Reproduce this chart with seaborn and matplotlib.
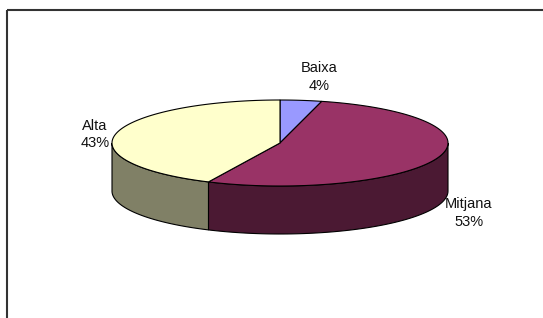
import numpy as np
import matplotlib
matplotlib.use("Agg")
import matplotlib.pyplot as plt
from matplotlib.patches import Polygon
import seaborn as sns

# ---- data ----
categories = ["Baixa", "Mitjana", "Alta"]
values = [4, 53, 43]
top_colors = ["#9999FF", "#993366", "#FFFFCC"]
side_colors = ["#4D4D80", "#4B1933", "#808066"]
label_pos = [(319, 77), (469, 213), (95, 134.5)]

sns.set_theme(style="white")
plt.rcParams["font.family"] = ["Liberation Sans", "DejaVu Sans"]

W, H = 543, 318
fig = plt.figure(figsize=(W / 100, H / 100), dpi=100)
ax = fig.add_axes([0, 0, 1, 1])
ax.set_xlim(0, W)
ax.set_ylim(H, 0)
ax.axis("off")

# geometry
cx, cy, a, b, depth = 280, 143, 168, 43, 48
start = 90.0
total = float(sum(values))
bounds = [start]
for v in values:
    bounds.append(bounds[-1] - 360.0 * v / total)

def pt(th, dy=0.0):
    t = np.deg2rad(th)
    return cx + a * np.cos(t), cy - b * np.sin(t) + dy

# sides (front half only)
for i in range(len(values)):
    t0, t1 = bounds[i], bounds[i + 1]
    for k in (0, -360):
        lo = max(t1, -180 + k)
        hi = min(t0, 0 + k)
        if hi > lo:
            ths = np.linspace(hi, lo, 80)
            top = [pt(t) for t in ths]
            bot = [pt(t, depth) for t in ths[::-1]]
            ax.add_patch(Polygon(top + bot, closed=True, facecolor=side_colors[i],
                                 edgecolor="black", linewidth=0.8, zorder=2))

# tops
for i in range(len(values)):
    t0, t1 = bounds[i], bounds[i + 1]
    ths = np.linspace(t0, t1, 200)
    poly = [(cx, cy)] + [pt(t) for t in ths]
    ax.add_patch(Polygon(poly, closed=True, facecolor=top_colors[i],
                         edgecolor="black", linewidth=0.8, zorder=3))

# labels
for (x, y), c, v in zip(label_pos, categories, values):
    ax.text(x, y, f"{c}\n{v}%", ha="center", va="center", fontsize=10.5,
            color="#111111", linespacing=1.3, zorder=5)

# frame
ax.plot([6.5, W], [9.5, 9.5], color="#333333", linewidth=1.5, solid_capstyle="butt")
ax.plot([6.5, 6.5], [9.5, H], color="#333333", linewidth=1.5, solid_capstyle="butt")

fig.savefig("out.png", dpi=100, facecolor="white")
